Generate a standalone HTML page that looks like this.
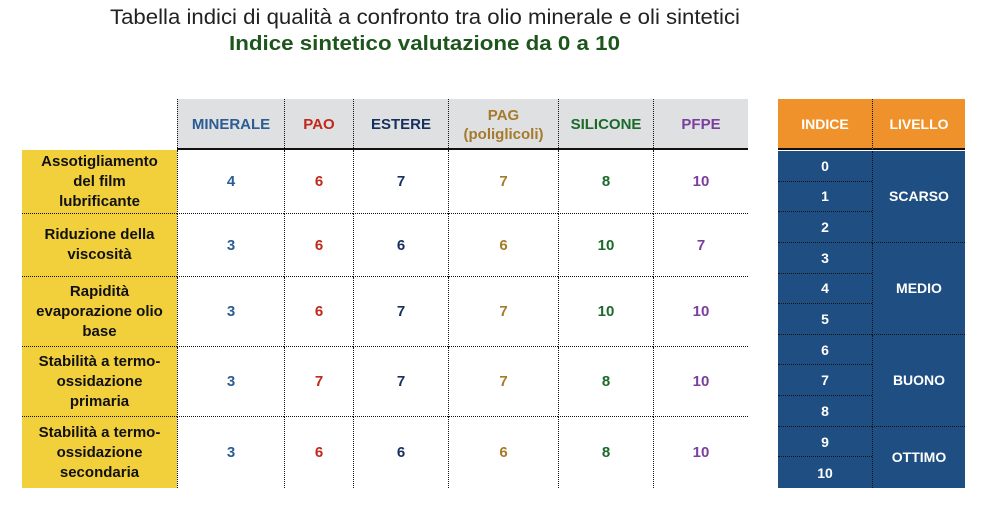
<!DOCTYPE html>
<html><head><meta charset="utf-8">
<style>
body{margin:0;width:982px;height:507px;background:#fff;position:relative;overflow:hidden;font-family:"Liberation Sans",Arial,sans-serif}
.a{position:absolute;box-sizing:border-box;display:flex;align-items:center;justify-content:center;text-align:center;font-weight:bold}
</style></head><body>
<svg width="982" height="60" style="position:absolute;left:0;top:0">
<text x="110" y="24" textLength="630" lengthAdjust="spacingAndGlyphs" font-family="Liberation Sans" font-size="21" fill="#222">Tabella indici di qualità a confronto tra olio minerale e oli sintetici</text>
<text x="229" y="50" textLength="391" lengthAdjust="spacingAndGlyphs" font-family="Liberation Sans" font-size="20" font-weight="bold" fill="#1d551c">Indice sintetico valutazione da  0 a 10</text>
</svg>
<div id="root"></div>
<script>
const columns=["MINERALE","PAO","ESTERE","PAG<br>(poliglicoli)","SILICONE","PFPE"];
const criteria=["Assotigliamento<br>del film<br>lubrificante","Riduzione della<br>viscosità","Rapidità<br>evaporazione olio<br>base","Stabilità a termo-<br>ossidazione<br>primaria","Stabilità a termo-<br>ossidazione<br>secondaria"];
const scores=[[4,6,7,7,8,10],[3,6,6,6,10,7],[3,6,7,7,10,10],[3,7,7,7,8,10],[3,6,6,6,8,10]];
const indexValues=[0,1,2,3,4,5,6,7,8,9,10];
const levels=["SCARSO","MEDIO","BUONO","OTTIMO"];
const levelSpans=[3,3,3,2];

const colColors=["#2b5c94","#c0281c","#16305e","#a57a2a","#1b6a2a","#7a3e9d"];
const colX=[177,284,353,448,558,653,748];
const rowY=[150,214,277,347,417,488];
const root=document.getElementById('root');
function box(x,y,w,h,html,css){const d=document.createElement('div');d.className='a';d.style.cssText=`left:${x}px;top:${y}px;width:${w}px;height:${h}px;`+(css||'');d.innerHTML=html;root.appendChild(d);return d;}
const dot='1.5px dotted #111';
// header gray
const hg=box(177,99,571,51,'','background:#dfe0e2;border-bottom:2px solid #111');


const lb=box(22,150,155,1,'','border-top:2px solid #111');


columns.forEach((c,i)=>{
 const d=box(colX[i],99,colX[i+1]-colX[i],51,c,`color:${colColors[i]};font-size:15px;line-height:19px;`+(i<6?`border-left:${dot};`:'')+(i==5?'':''));
 
 
});
criteria.forEach((t,r)=>{
 const y=rowY[r],h=rowY[r+1]-y;
 const l=box(22,y,155,h,t,`background:#f2d03b;color:#111;font-size:15px;line-height:20px;`+(r<4?`border-bottom:${dot};`:''));
 
 
 scores[r].forEach((v,c)=>{
  const d=box(colX[c],y,colX[c+1]-colX[c],h,String(v),`color:${colColors[c]};font-size:15px;border-left:${dot};`+(r<4?`border-bottom:${dot};`:''));
  
  
 });
});
// legend table
const ih=box(778,99,94,51,'INDICE','background:#f0922b;color:#fff;font-size:14px;border-bottom:2px solid #111');


const lh=box(872,99,93,51,'LIVELLO',`background:#f0922b;color:#fff;font-size:14px;border-bottom:2px solid #111;border-left:${dot}`);


const rh=(488-151)/indexValues.length;
indexValues.forEach((v,i)=>{
 const d=box(778,151+i*rh,94,rh,String(v),`background:#1f4e82;color:#fff;font-size:14px;`+(i<indexValues.length-1?`border-bottom:${dot};`:''));
 
 
});
let acc=0;
levels.forEach((t,i)=>{
 const d=box(872,151+acc*rh,93,levelSpans[i]*rh,t,`background:#1f4e82;color:#fff;font-size:14px;border-left:${dot};`+(i<levels.length-1?`border-bottom:${dot};`:''));
 
 
 acc+=levelSpans[i];
});
</script>
</body></html>
